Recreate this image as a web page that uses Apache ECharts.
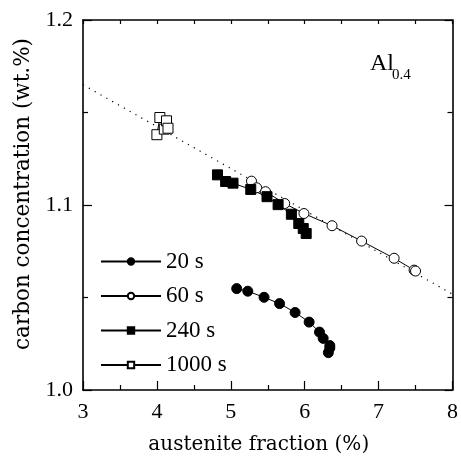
<!DOCTYPE html>
<html>
<head>
<meta charset="utf-8">
<script src="https://cdn.jsdelivr.net/npm/echarts@6/dist/echarts.min.js"></script>
<style>html,body{margin:0;padding:0;background:#fff}#c{width:461px;height:460px}</style>
</head>
<body>
<div id="c"></div>
<script>
// ---- data ----
var seriesNames = ['20 s', '60 s', '240 s', '1000 s'];
var x20 = [5.08, 5.23, 5.45, 5.66, 5.87, 6.06, 6.20, 6.25, 6.34, 6.34, 6.32];
var y20 = [1.0548, 1.0534, 1.0501, 1.0467, 1.0419, 1.0367, 1.0313, 1.0279, 1.0240, 1.0227, 1.0202];
var x60 = [5.28, 5.35, 5.47, 5.73, 5.99, 6.37, 6.77, 7.21, 7.48, 7.50];
var y60 = [1.1129, 1.1093, 1.1072, 1.1008, 1.0954, 1.0888, 1.0805, 1.0712, 1.0648, 1.0643];
var x240 = [4.82, 4.93, 5.03, 5.27, 5.49, 5.64, 5.82, 5.92, 5.98, 6.02];
var y240 = [1.1163, 1.1127, 1.1118, 1.1084, 1.1045, 1.1002, 1.0950, 1.0900, 1.0873, 1.0846];
var x1000 = [4.00, 4.04, 4.10, 4.13, 4.15];
var y1000 = [1.1380, 1.1473, 1.1410, 1.1455, 1.1415];
var xFit = [3, 8];
var yFit = [1.1650, 1.0518];
var xTicks = [3, 4, 5, 6, 7, 8];
var yTicks = ['1.0', '1.1', '1.2'];

function pairs(xs, ys) { return xs.map(function (v, i) { return [v, ys[i]]; }); }

var FONT = '"Liberation Serif", "DejaVu Serif", serif';
var WIDE = '"DejaVu Serif", "Liberation Serif", serif';
var chart = echarts.init(document.getElementById('c'), null, {renderer: 'canvas'});

function seriesDef(name, xs, ys, symbol, filled) {
  return {
    name: name, type: 'line', data: pairs(xs, ys),
    symbol: symbol, symbolSize: 10, showSymbol: true,
    lineStyle: {color: '#000', width: 1},
    itemStyle: {color: filled ? '#000' : '#fff', borderColor: '#000', borderWidth: 1, opacity: 1},
    emphasis: {disabled: true}, animation: false, z: 3
  };
}

var option = {
  animation: false,
  backgroundColor: '#fff',
  grid: {left: 83, right: 6, top: 20, bottom: 67, containLabel: false},
  legend: {
    data: seriesNames, orient: 'vertical', left: 95, top: 245,
    itemWidth: 60, itemHeight: 8, itemGap: 11.5,
    textStyle: {fontFamily: FONT, fontSize: 23, color: '#000', lineHeight: 22},
    selectedMode: false
  },
  xAxis: [{
    type: 'value', min: 3, max: 8, interval: 1, position: 'bottom',
    axisLine: {show: true, onZero: false, lineStyle: {color: '#000', width: 1.6}},
    axisTick: {show: true, inside: true, length: 9, lineStyle: {color: '#000', width: 1.2}},
    minorTick: {show: true, splitNumber: 2, length: 5, lineStyle: {color: '#000', width: 1.2}},
    splitLine: {show: false},
    axisLabel: {fontFamily: FONT, fontSize: 22, color: '#000', margin: 11,
      formatter: function (v) { return xTicks.indexOf(v) >= 0 ? String(v) : ''; }},
    name: 'austenite fraction (%)', nameLocation: 'middle', nameGap: 45,
    nameTextStyle: {fontFamily: WIDE, fontSize: 20, color: '#000', padding: [0, 18, 0, 0]}
  }, {
    type: 'value', min: 3, max: 8, interval: 1, position: 'top',
    axisLine: {show: true, onZero: false, lineStyle: {color: '#000', width: 1.6}},
    axisTick: {show: true, inside: true, length: 4, lineStyle: {color: '#000', width: 1.2}},
    minorTick: {show: true, splitNumber: 2, length: 4, lineStyle: {color: '#000', width: 1.2}},
    splitLine: {show: false}, axisLabel: {show: false}
  }],
  yAxis: [{
    type: 'value', min: 1.0, max: 1.2, interval: 0.1, position: 'left',
    axisLine: {show: true, onZero: false, lineStyle: {color: '#000', width: 1.6}},
    axisTick: {show: true, inside: true, length: 9, lineStyle: {color: '#000', width: 1.2}},
    minorTick: {show: true, splitNumber: 2, length: 5, lineStyle: {color: '#000', width: 1.2}},
    splitLine: {show: false},
    axisLabel: {fontFamily: FONT, fontSize: 22, color: '#000', margin: 10,
      formatter: function (v) { var s = v.toFixed(1); return yTicks.indexOf(s) >= 0 ? s : ''; }},
    name: 'carbon concentration (wt.%)', nameLocation: 'middle', nameGap: 45,
    nameTextStyle: {fontFamily: WIDE, fontSize: 21.5, color: '#000', padding: [0, 0, 0, 22]}
  }, {
    type: 'value', min: 1.0, max: 1.2, interval: 0.1, position: 'right',
    axisLine: {show: true, onZero: false, lineStyle: {color: '#000', width: 1.6}},
    axisTick: {show: true, inside: true, length: 8, lineStyle: {color: '#000', width: 1.2}},
    minorTick: {show: true, splitNumber: 2, length: 5, lineStyle: {color: '#000', width: 1.2}},
    splitLine: {show: false}, axisLabel: {show: false}
  }],
  graphic: [
    {type: 'text', left: 370, top: 52, style: {text: 'Al', font: '24px ' + FONT, fill: '#000'}},
    {type: 'text', left: 392, top: 68, style: {text: '0.4', font: '15px ' + FONT, fill: '#000'}}
  ],
  series: [
    {
      name: 'fit', type: 'line', data: pairs(xFit, yFit), symbol: 'none',
      lineStyle: {color: '#000', width: 1.2, type: [1.2, 5.5]}, z: 1, silent: true
    },
    seriesDef(seriesNames[0], x20, y20, 'circle', true),
    seriesDef(seriesNames[1], x60, y60, 'circle', false),
    seriesDef(seriesNames[2], x240, y240, 'rect', true),
    seriesDef(seriesNames[3], x1000, y1000, 'rect', false)
  ]
};
chart.setOption(option);
</script>
</body>
</html>
